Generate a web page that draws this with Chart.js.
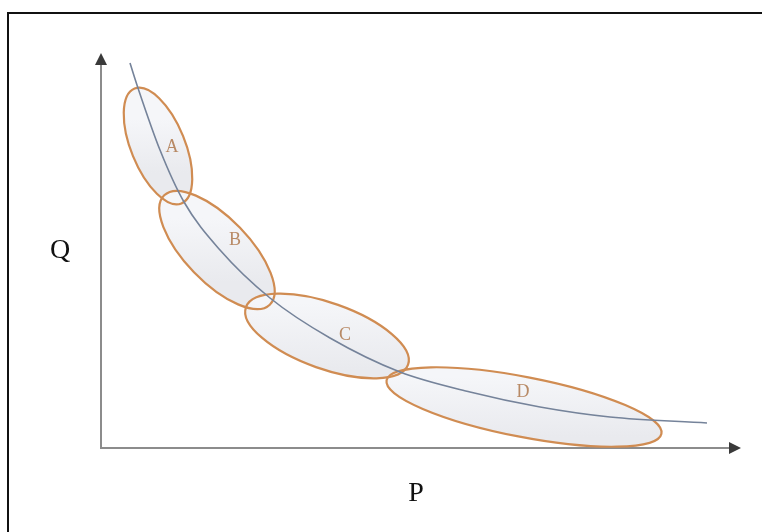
<!DOCTYPE html>
<html>
<head>
<meta charset="utf-8">
<script src="https://cdn.jsdelivr.net/npm/chart.js@4.4.1/dist/chart.umd.min.js"></script>
<style>
  html, body { margin: 0; padding: 0; background: #fff; }
  #wrap { position: relative; width: 762px; height: 532px; overflow: hidden; }
  #frame {
    position: absolute; left: 7px; top: 12px; width: 800px; height: 600px;
    border-left: 2px solid #111; border-top: 2px solid #111;
  }
  canvas { position: absolute; left: 0; top: 0; }
</style>
</head>
<body>
<div id="wrap">
  <div id="frame"></div>
  <canvas id="chart" width="762" height="532"></canvas>
</div>
<script>
// curve Q(P)
const curveP = [29, 37, 59, 83, 119, 169, 229, 299, 369, 439, 509, 606];
const curveQ = [385, 360, 298, 246, 198, 150, 110, 76, 56, 41, 31, 25];

// the four regions
const regionNames = ['A', 'B', 'C', 'D'];
const regionP = [57, 116, 226, 423];
const regionQ = [302, 198, 112, 41];
const regionMajor = [62, 76, 86, 140];
const regionMinor = [27, 32, 33, 30];
const regionAngle = [-67.8, -46, -19.5, -11];
const labelP = [71, 134, 244, 422];
const labelQ = [301, 208, 113, 56];

const axisMaxP = 640;
const axisMaxQ = 395;

const regionsPlugin = {
  id: 'regions',
  beforeDatasetsDraw(chart) {
    const { ctx, scales: { x, y } } = chart;
    const ux = x.getPixelForValue(1) - x.getPixelForValue(0);
    const uy = y.getPixelForValue(0) - y.getPixelForValue(1);
    const shapes = regionNames.map((_, i) => ({
      cx: x.getPixelForValue(regionP[i]),
      cy: y.getPixelForValue(regionQ[i]),
      rx: regionMajor[i] * ux,
      ry: regionMinor[i] * uy,
      rot: -regionAngle[i] * Math.PI / 180
    }));
    ctx.save();
    // fill first, outlines after, so every outline stays visible
    for (const s of shapes) {
      ctx.beginPath();
      ctx.ellipse(s.cx, s.cy, s.rx, s.ry, s.rot, 0, Math.PI * 2);
      const g = ctx.createLinearGradient(s.cx, s.cy - s.ry, s.cx, s.cy + s.ry);
      g.addColorStop(0, '#f5f6f9');
      g.addColorStop(1, '#e9eaee');
      ctx.fillStyle = g;
      ctx.fill();
    }
    ctx.strokeStyle = '#d08c52';
    ctx.lineWidth = 2.2;
    for (const s of shapes) {
      ctx.beginPath();
      ctx.ellipse(s.cx, s.cy, s.rx, s.ry, s.rot, 0, Math.PI * 2);
      ctx.stroke();
    }
    ctx.fillStyle = '#b88a66';
    ctx.font = '18px "Liberation Serif", "DejaVu Serif", serif';
    ctx.textAlign = 'center';
    ctx.textBaseline = 'middle';
    regionNames.forEach((n, i) => {
      ctx.fillText(n, x.getPixelForValue(labelP[i]), y.getPixelForValue(labelQ[i]));
    });
    ctx.restore();
  }
};

const axesPlugin = {
  id: 'arrowAxes',
  beforeDraw(chart) {
    const { ctx, scales: { x, y } } = chart;
    const x0 = x.getPixelForValue(0), y0 = y.getPixelForValue(0);
    const xEnd = x.getPixelForValue(axisMaxP), yEnd = y.getPixelForValue(axisMaxQ);
    ctx.save();
    ctx.strokeStyle = '#8c8c8c';
    ctx.lineWidth = 2;
    ctx.beginPath();
    ctx.moveTo(x0, y0 + 1);
    ctx.lineTo(x0, yEnd + 8);
    ctx.moveTo(x0 - 1, y0);
    ctx.lineTo(xEnd - 8, y0);
    ctx.stroke();
    ctx.fillStyle = '#3a3a3a';
    ctx.beginPath();
    ctx.moveTo(x0, yEnd);
    ctx.lineTo(x0 - 6, yEnd + 12);
    ctx.lineTo(x0 + 6, yEnd + 12);
    ctx.closePath();
    ctx.fill();
    ctx.beginPath();
    ctx.moveTo(xEnd, y0);
    ctx.lineTo(xEnd - 12, y0 - 6);
    ctx.lineTo(xEnd - 12, y0 + 6);
    ctx.closePath();
    ctx.fill();

    ctx.fillStyle = '#111';
    ctx.font = '28px "Liberation Serif", "DejaVu Serif", serif';
    ctx.textAlign = 'center';
    ctx.textBaseline = 'middle';
    ctx.fillText('Q', 60, 251);
    ctx.fillText('P', 416, 494);
    ctx.restore();
  }
};

new Chart(document.getElementById('chart'), {
  type: 'line',
  data: {
    datasets: [{
      data: curveP.map((p, i) => ({ x: p, y: curveQ[i] })),
      borderColor: '#75839a',
      borderWidth: 1.6,
      pointRadius: 0,
      fill: false,
      cubicInterpolationMode: 'monotone'
    }]
  },
  options: {
    responsive: false,
    animation: false,
    layout: { padding: { left: 101, right: 21, top: 53, bottom: 84 } },
    scales: {
      x: { type: 'linear', min: 0, max: axisMaxP, display: false },
      y: { type: 'linear', min: 0, max: axisMaxQ, display: false }
    },
    plugins: {
      legend: { display: false },
      tooltip: { enabled: false }
    }
  },
  plugins: [axesPlugin, regionsPlugin]
});
</script>
</body>
</html>
